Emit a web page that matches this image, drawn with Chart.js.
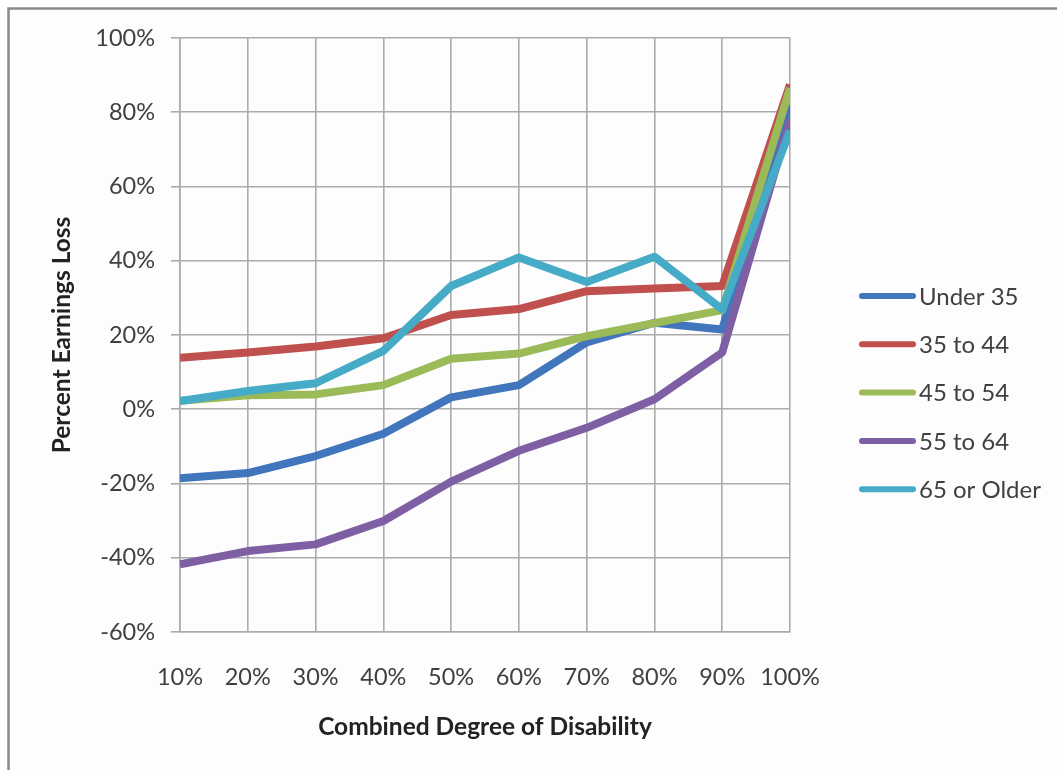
<!DOCTYPE html>
<html>
<head>
<meta charset="utf-8">
<title>Percent Earnings Loss by Combined Degree of Disability</title>
<script src="https://cdn.jsdelivr.net/npm/chart.js@4.4.1/dist/chart.umd.min.js"></script>
<style>
  html, body { margin: 0; padding: 0; background: #ffffff; }
  #wrap { position: relative; width: 1057px; height: 770px; }
</style>
</head>
<body>
<div id="wrap"><canvas id="chart" width="1057" height="770"></canvas></div>
<script>
// Category axis: combined degree of disability
const degrees = ['10%', '20%', '30%', '40%', '50%', '60%', '70%', '80%', '90%', '100%'];

// Percent earnings loss per age group
const under35   = [-18.6, -17.2, -12.6, -6.6, 3.2, 6.5, 18.0, 23.3, 21.5, 82.0];
const age35to44 = [13.9, 15.3, 16.9, 19.1, 25.4, 27.0, 31.8, 32.5, 33.2, 87.5];
const age45to54 = [2.3, 3.8, 4.0, 6.5, 13.6, 15.0, 19.7, 23.2, 26.7, 86.5];
const age55to64 = [-41.8, -38.2, -36.4, -30.1, -19.5, -11.2, -5.0, 2.7, 15.3, 78.0];
const age65plus = [2.2, 4.9, 7.0, 15.7, 33.2, 40.9, 34.3, 41.1, 26.9, 75.0];

const seriesNames  = ['Under 35', '35 to 44', '45 to 54', '55 to 64', '65 or Older'];
const seriesValues = [under35, age35to44, age45to54, age55to64, age65plus];
const seriesColors = ['#4176BC', '#C0504D', '#9BBB59', '#7F5FA4', '#45ABC6'];

const FONT = 'Lato, "Open Sans", sans-serif';

// Later series are painted over earlier ones (lower order = drawn on top)
const datasets = seriesNames.map((name, i) => ({
  label: name,
  data: seriesValues[i],
  borderColor: seriesColors[i],
  backgroundColor: seriesColors[i],
  borderWidth: 8,
  borderJoinStyle: 'round',
  borderCapStyle: 'butt',
  pointRadius: 0,
  pointHoverRadius: 0,
  tension: 0,
  fill: false,
  clip: 0,
  order: seriesNames.length - i
}));

// Outer frame (top and left edges) behind the chart
const framePlugin = {
  id: 'frame',
  beforeDraw(chart) {
    const ctx = chart.ctx;
    ctx.save();
    ctx.fillStyle = '#ffffff';
    ctx.fillRect(0, 0, chart.width, chart.height);
    ctx.fillStyle = '#fdfdfd';
    ctx.fillRect(9, 9, chart.width - 9, chart.height - 9);
    ctx.strokeStyle = '#8a8a8a';
    ctx.lineWidth = 2.5;
    ctx.beginPath();
    ctx.moveTo(8.5, chart.height);
    ctx.lineTo(8.5, 8.5);
    ctx.lineTo(chart.width, 8.5);
    ctx.stroke();
    ctx.restore();
  }
};

// Legend on the right: short line sample followed by the series name
const sideLegend = {
  id: 'sideLegend',
  afterDraw(chart) {
    const ctx = chart.ctx;
    ctx.save();
    ctx.font = '24px ' + FONT;
    ctx.textBaseline = 'middle';
    ctx.textAlign = 'left';
    chart.data.datasets.forEach((ds, i) => {
      const y = 296 + i * 48.3;
      ctx.strokeStyle = ds.borderColor;
      ctx.lineWidth = 6;
      ctx.lineCap = 'round';
      ctx.beginPath();
      ctx.moveTo(862, y);
      ctx.lineTo(913, y);
      ctx.stroke();
      ctx.fillStyle = '#404040';
      ctx.fillText(ds.label, 919, y + 1);
    });
    ctx.restore();
  }
};

new Chart(document.getElementById('chart'), {
  type: 'line',
  data: { labels: degrees, datasets },
  options: {
    responsive: false,
    animation: false,
    devicePixelRatio: 1,
    layout: { padding: { left: 0, right: 267, top: 38, bottom: 0 } },
    plugins: {
      legend: { display: false },
      tooltip: { enabled: false },
      title: { display: false }
    },
    scales: {
      x: {
        offset: false,
        grid: { color: '#ababab', lineWidth: 1.6, drawTicks: false },
        border: { color: '#ababab', width: 1.6 },
        ticks: {
          color: '#404040',
          font: { family: FONT, size: 23.5 },
          padding: 31,
          maxRotation: 0,
          autoSkip: false
        },
        title: {
          display: true,
          text: 'Combined Degree of Disability',
          color: '#222222',
          font: { family: FONT, size: 24.5, weight: 'bold' },
          padding: { top: 0, bottom: 28 }
        },
        afterFit(scale) { scale.height = 138; }
      },
      y: {
        min: -60,
        max: 100,
        grid: { color: '#ababab', lineWidth: 1.6, drawTicks: true, tickLength: 9 },
        border: { color: '#ababab', width: 1.6 },
        ticks: {
          stepSize: 20,
          color: '#404040',
          font: { family: FONT, size: 23.5 },
          padding: 16,
          callback: v => v + '%'
        },
        title: {
          display: true,
          text: 'Percent Earnings Loss',
          color: '#222222',
          font: { family: FONT, size: 24.5, weight: 'bold' },
          padding: { top: 47, bottom: 0 }
        },
        afterFit(scale) { scale.width = 180; }
      }
    }
  },
  plugins: [framePlugin, sideLegend]
});
</script>
</body>
</html>
